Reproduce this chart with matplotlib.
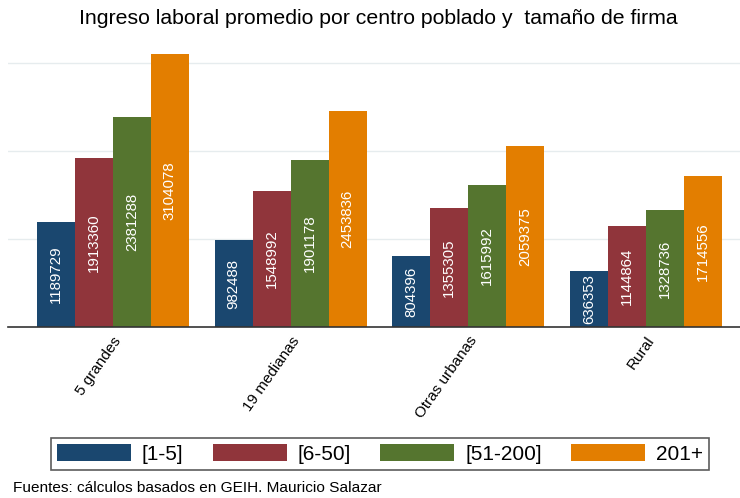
import matplotlib.pyplot as plt
import numpy as np

plt.rcParams['font.family'] = ['Liberation Sans', 'DejaVu Sans']

categories = ['5 grandes', '19 medianas', 'Otras urbanas', 'Rural']
series = ['[1-5]', '[6-50]', '[51-200]', '201+']
values = {
    '[1-5]': [1189729, 982488, 804396, 636353],
    '[6-50]': [1913360, 1548992, 1355305, 1144864],
    '[51-200]': [2381288, 1901178, 1615992, 1328736],
    '201+': [3104078, 2453836, 2059375, 1714556],
}
colors = ['#1a476f', '#90353b', '#55752f', '#e37e00']

fig = plt.figure(figsize=(7.4, 4.98), dpi=100)
ax = fig.add_axes([0.011, 0.3434, 0.989, 0.566])

x = np.arange(len(categories))
w = 0.214
for i, s in enumerate(series):
    pos = x + (i - 1.5) * w
    bars = ax.bar(pos, values[s], width=w, color=colors[i], label=s, zorder=2)
    for b, v in zip(bars, values[s]):
        ax.text(b.get_x() + b.get_width() / 2, v / 2, str(v), rotation=90,
                ha='center', va='center', color='white', fontsize=10.8, zorder=3)

ax.set_xlim(-0.59, 3.53)
ax.set_ylim(0, 3.2e6)
ax.set_yticks([1e6, 2e6, 3e6])
ax.yaxis.grid(True, color='#e6ecee', linewidth=1, zorder=0)
ax.tick_params(axis='y', left=False, labelleft=False)
ax.tick_params(axis='x', length=0, pad=5)
ax.set_xticks(x)
ax.set_xticklabels(categories, rotation=55, ha='right', rotation_mode='anchor', fontsize=11)
for sp in ['top', 'right', 'left']:
    ax.spines[sp].set_visible(False)
ax.spines['bottom'].set_color('#333333')
ax.spines['bottom'].set_linewidth(1.2)

fig.text(0.511, 0.962, 'Ingreso laboral promedio por centro poblado y  tamaño de firma',
         ha='center', va='center', fontsize=15.3)

leg = fig.legend(loc='center', bbox_to_anchor=(0.5135, 0.0884), ncol=4, fontsize=15,
                 handlelength=3.55, handleheight=0.87, handletextpad=0.53,
                 columnspacing=1.4, frameon=True, fancybox=False, borderpad=0.3)
leg.get_frame().set_edgecolor('#333333')
leg.get_frame().set_linewidth(1.2)

fig.text(0.018, 0.02, 'Fuentes: cálculos basados en GEIH. Mauricio Salazar',
         ha='left', va='center', fontsize=11.1)

fig.savefig('out.png', dpi=100)
